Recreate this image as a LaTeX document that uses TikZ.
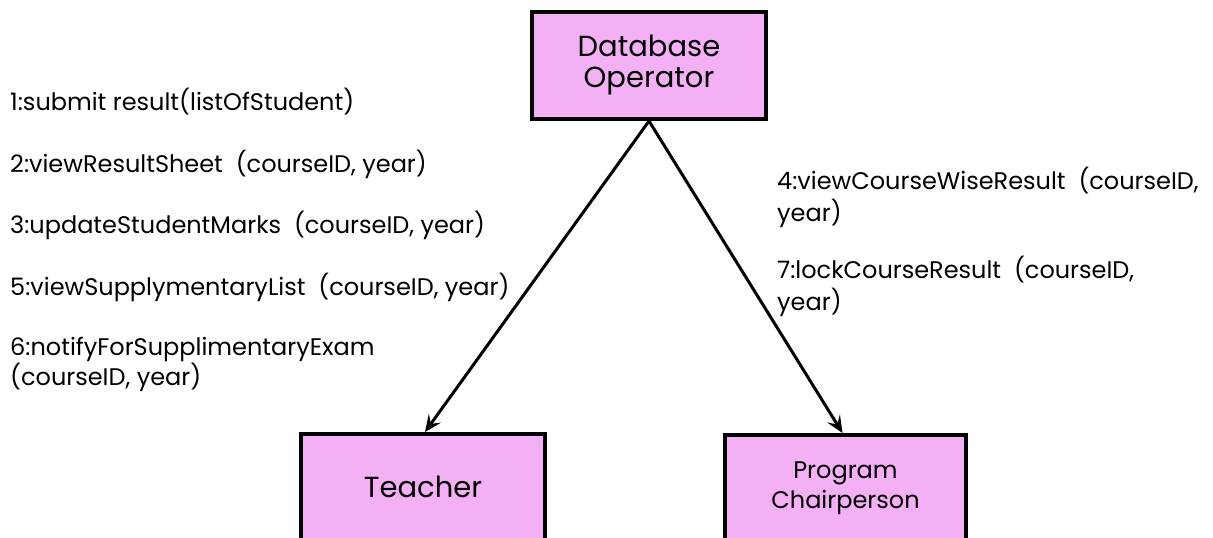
\documentclass[tikz,border=0pt]{standalone}
\usepackage{fontspec}
\setmainfont{Poppins}
\usetikzlibrary{arrows.meta}
\definecolor{boxfill}{RGB}{244,176,244}
\begin{document}
\begin{tikzpicture}[x=1pt,y=-1pt,
  box/.style={draw=black, line width=4pt, fill=boxfill, inner sep=0pt, align=center, font=\fontsize{29}{31}\selectfont},
  msg/.style={anchor=base west, inner sep=0pt, align=left, font=\fontsize{24}{30}\selectfont},
  rmsg/.style={msg, font=\fontsize{24}{32}\selectfont},
  flow/.style={-{Stealth[length=17pt,width=15pt,inset=7pt]}, line width=3pt}]
\useasboundingbox (0,0) rectangle (1213,538);
\node[box, minimum width=234pt, minimum height=107pt] (db) at (649,65.5) {Database\\Operator};
\node[box, minimum width=244pt, minimum height=106pt] (teacher) at (423,487) {Teacher};
\node[box, minimum width=241pt, minimum height=106pt, font=\fontsize{24}{30}\selectfont] (chair) at (845.5,488) {Program\\Chairperson};
\draw[flow] (db.south) -- ([xshift=2pt]teacher.north);
\draw[flow] (db.south) -- ([xshift=-3pt]chair.north);
\node[msg] (m1) at (10,110) {1:submit result(listOfStudent)};
\node[msg] (m2) at (10,172) {2:viewResultSheet\ \ (courseID, year)};
\node[msg] (m3) at (10,233) {3:updateStudentMarks\ \ (courseID, year)};
\node[msg] (m5) at (10,295) {5:viewSupplymentaryList\ \ (courseID, year)};
\node[msg] (m6) at (10,385) {6:notifyForSupplimentaryExam\\(courseID, year)};
\node[rmsg] (m4) at (777,221) {4:viewCourseWiseResult\ \ (courseID,\\year)};
\node[rmsg] (m7) at (777,310) {7:lockCourseResult\ \ (courseID,\\year)};
\end{tikzpicture}
\end{document}
